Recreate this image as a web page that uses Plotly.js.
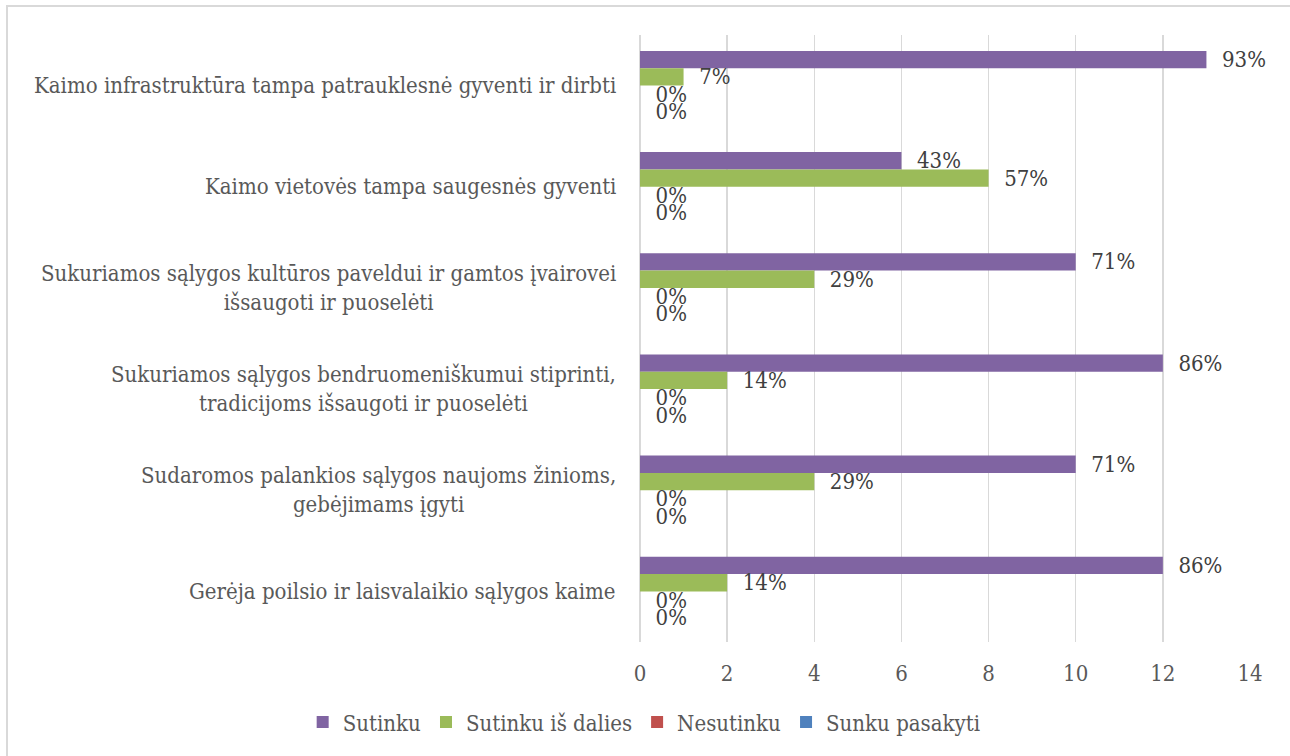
<!DOCTYPE html>
<html>
<head>
<meta charset="utf-8">
<script src="https://cdn.plot.ly/plotly-3.0.1.min.js"></script>
<style>
html,body{margin:0;padding:0;background:#fff;overflow:hidden;width:1290px;height:756px;}
#chart{position:absolute;left:0;top:0;width:1290px;height:756px;}
#frame{position:absolute;left:6px;top:5px;width:1400px;height:900px;border:2px solid #d9d9d9;pointer-events:none;}
</style>
</head>
<body>
<div id="chart"></div>
<div id="frame"></div>
<script>
const categories = [
  "Kaimo infrastruktūra tampa patrauklesnė gyventi ir dirbti",
  "Kaimo vietovės tampa saugesnės gyventi",
  "Sukuriamos sąlygos kultūros paveldui ir gamtos įvairovei<br>išsaugoti ir puoselėti",
  "Sukuriamos sąlygos bendruomeniškumui stiprinti,<br>tradicijoms išsaugoti ir puoselėti",
  "Sudaromos palankios sąlygos naujoms žinioms,<br>gebėjimams įgyti",
  "Gerėja poilsio ir laisvalaikio sąlygos kaime"
];
const seriesNames = ["Sutinku", "Sutinku iš dalies", "Nesutinku", "Sunku pasakyti"];
const sutinku = [13, 6, 10, 12, 10, 12];
const sutinkuIsDalies = [1, 8, 4, 2, 4, 2];
const nesutinku = [0, 0, 0, 0, 0, 0];
const sunkuPasakyti = [0, 0, 0, 0, 0, 0];
const sutinkuLabels = ["93%", "43%", "71%", "86%", "71%", "86%"];
const sutinkuIsDaliesLabels = ["7%", "57%", "29%", "14%", "29%", "14%"];
const nesutinkuLabels = ["0%", "0%", "0%", "0%", "0%", "0%"];
const sunkuPasakytiLabels = ["0%", "0%", "0%", "0%", "0%", "0%"];
const xTicks = [0, 2, 4, 6, 8, 10, 12, 14];

const colors = ["#8064A2", "#9BBB59", "#C0504D", "#4F81BD"];
const values = [sutinku, sutinkuIsDalies, nesutinku, sunkuPasakyti];
const labels = [sutinkuLabels, sutinkuIsDaliesLabels, nesutinkuLabels, sunkuPasakytiLabels];
const FONT = "DejaVu Serif Condensed, DejaVu Serif, serif";
const FS = 22;

const traces = seriesNames.map((name, i) => ({
  type: "bar",
  orientation: "h",
  name: name,
  y: categories,
  x: values[i],
  text: labels[i],
  texttemplate: "\u00a0\u00a0%{text}",
  textposition: "outside",
  constraintext: "none",
  cliponaxis: false,
  textfont: {family: FONT, size: FS, color: "#404040"},
  marker: {color: colors[i]},
  hoverinfo: "x+name"
}));

const annotations = categories.map(c => ({
  xref: "x", yref: "y", x: 0, y: c,
  xanchor: "right", yanchor: "middle",
  xshift: -22, align: "center",
  showarrow: false,
  text: c,
  font: {family: FONT, size: FS, color: "#595959"}
}));

const layout = {
  width: 1290, height: 756,
  margin: {l: 640, r: 40, t: 35, b: 114},
  paper_bgcolor: "rgba(0,0,0,0)",
  plot_bgcolor: "rgba(0,0,0,0)",
  barmode: "group",
  bargap: 0.315,
  bargroupgap: 0,
  font: {family: FONT, size: FS, color: "#595959"},
  xaxis: {
    range: [0, 14],
    tickvals: xTicks,
    ticktext: xTicks.map(String),
    showgrid: true, gridcolor: "#d9d9d9", gridwidth: 1.5,
    zeroline: true, zerolinecolor: "#d9d9d9", zerolinewidth: 1.5,
    showline: false,
    ticks: "outside", ticklen: 12, tickcolor: "rgba(0,0,0,0)",
    tickfont: {family: FONT, size: FS, color: "#595959"},
    fixedrange: true
  },
  yaxis: {
    type: "category",
    autorange: "reversed",
    showticklabels: false,
    showgrid: false, zeroline: false, showline: false,
    fixedrange: true
  },
  legend: {
    orientation: "h",
    x: -0.553, xanchor: "left",
    y: -0.132, yanchor: "middle",
    font: {family: FONT, size: FS, color: "#595959"},
    itemwidth: 30,
    traceorder: "normal"
  },
  annotations: annotations,
  showlegend: true
};

Plotly.newPlot("chart", traces, layout, {displayModeBar: false, staticPlot: true});
</script>
</body>
</html>
